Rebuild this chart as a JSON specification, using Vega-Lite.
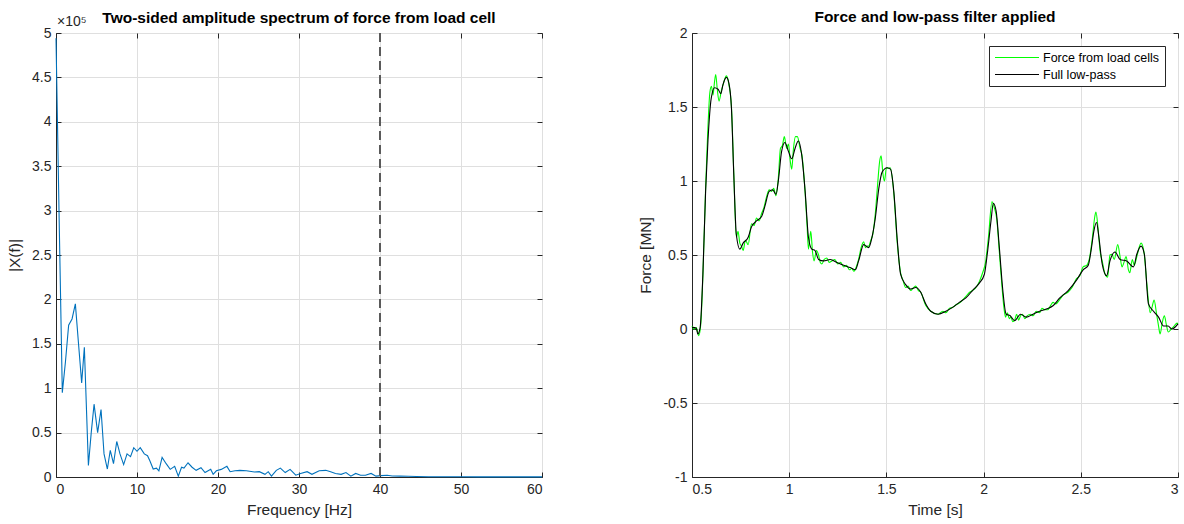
{
  "$schema": "https://vega.github.io/schema/vega-lite/v6.json",
  "background": "white",
  "padding": {"left": 7, "top": 9, "right": 1, "bottom": 5},
  "spacing": 92,
  "resolve": {"scale": {"color": "independent"}, "legend": {"color": "independent"}},
  "config": {
    "font": "Liberation Sans",
    "view": {"stroke": "#262626", "strokeWidth": 1},
    "axis": {
      "labelFont": "Liberation Sans", "labelFontSize": 14, "labelColor": "#262626",
      "titleFont": "Liberation Sans", "titleFontSize": 15.5, "titleFontWeight": "normal", "titleColor": "#262626",
      "domainColor": "#262626", "tickColor": "#262626", "gridColor": "#dfdfdf", "grid": true,
      "tickSize": -5, "labelPadding": 10, "titlePadding": 6
    },
    "axisY": {"titlePadding": 9},
    "title": {"font": "Liberation Sans", "fontSize": 15.5, "fontWeight": "bold", "color": "#000000", "frame": "group"},
    "legend": {
      "orient": "top-right", "offset": 13, "fillColor": "white", "strokeColor": "#262626",
      "padding": 5, "symbolType": "M-4,0H4", "symbolSize": 121, "symbolStrokeWidth": 1.2, "symbolOffset": 16.5,
      "labelFont": "Liberation Sans", "labelFontSize": 12.5, "labelColor": "#000000", "rowPadding": 4, "labelOffset": 19.5, "cornerRadius": 0
    }
  },
  "hconcat": [
    {
      "width": 486, "height": 444,
      "title": {"text": "Two-sided amplitude spectrum of force from load cell", "offset": -11},
      "resolve": {"axis": {"x": "independent", "y": "independent"}},
      "layer": [
        {
          "data": {"values": [
            {"f": 0, "amp": 494000}, {"f": 0.39, "amp": 290000}, {"f": 0.78, "amp": 95000}, {"f": 1.17, "amp": 130000},
            {"f": 1.56, "amp": 171000}, {"f": 1.98, "amp": 178000}, {"f": 2.39, "amp": 195000}, {"f": 2.78, "amp": 150000},
            {"f": 3.17, "amp": 106000}, {"f": 3.5, "amp": 146000}, {"f": 4.0, "amp": 13000}, {"f": 4.35, "amp": 50000},
            {"f": 4.7, "amp": 82000}, {"f": 5.14, "amp": 50000}, {"f": 5.56, "amp": 76000}, {"f": 5.93, "amp": 26000},
            {"f": 6.34, "amp": 9000}, {"f": 6.7, "amp": 30000}, {"f": 7.1, "amp": 15000}, {"f": 7.5, "amp": 40000},
            {"f": 7.9, "amp": 26000}, {"f": 8.35, "amp": 14000}, {"f": 8.77, "amp": 26000}, {"f": 9.2, "amp": 23000},
            {"f": 9.6, "amp": 33000}, {"f": 10.0, "amp": 29000}, {"f": 10.4, "amp": 33000}, {"f": 10.9, "amp": 26000},
            {"f": 11.3, "amp": 24000}, {"f": 11.6, "amp": 18000}, {"f": 12.0, "amp": 9000}, {"f": 12.4, "amp": 10000},
            {"f": 12.7, "amp": 7000}, {"f": 13.1, "amp": 22000}, {"f": 13.6, "amp": 15000}, {"f": 14.1, "amp": 8600},
            {"f": 14.65, "amp": 12000}, {"f": 15.1, "amp": 1000}, {"f": 15.5, "amp": 11000}, {"f": 15.8, "amp": 10000},
            {"f": 16.3, "amp": 16000}, {"f": 16.8, "amp": 11000}, {"f": 17.3, "amp": 7500}, {"f": 17.9, "amp": 10500},
            {"f": 18.4, "amp": 5000}, {"f": 19.1, "amp": 8600}, {"f": 19.4, "amp": 3000}, {"f": 19.8, "amp": 7000},
            {"f": 20.4, "amp": 8600}, {"f": 21.1, "amp": 12000}, {"f": 21.5, "amp": 6000}, {"f": 22.1, "amp": 7000},
            {"f": 22.7, "amp": 7500}, {"f": 23.5, "amp": 7000}, {"f": 24.5, "amp": 5600}, {"f": 25.1, "amp": 6000},
            {"f": 25.8, "amp": 3000}, {"f": 26.2, "amp": 6000}, {"f": 26.6, "amp": 1000}, {"f": 27.2, "amp": 7500},
            {"f": 27.7, "amp": 10000}, {"f": 28.3, "amp": 5000}, {"f": 28.9, "amp": 8600}, {"f": 29.6, "amp": 2000},
            {"f": 30.2, "amp": 4000}, {"f": 31.0, "amp": 6000}, {"f": 31.6, "amp": 3000}, {"f": 32.5, "amp": 7000},
            {"f": 33.3, "amp": 7500}, {"f": 33.9, "amp": 6000}, {"f": 34.5, "amp": 4000}, {"f": 35.2, "amp": 3000},
            {"f": 35.8, "amp": 5000}, {"f": 36.4, "amp": 1000}, {"f": 37.0, "amp": 4000}, {"f": 37.6, "amp": 2000},
            {"f": 38.2, "amp": 2000}, {"f": 38.9, "amp": 4000}, {"f": 39.5, "amp": 1000}, {"f": 40.1, "amp": 1500},
            {"f": 40.9, "amp": 2000}, {"f": 41.5, "amp": 1200}, {"f": 42.5, "amp": 1000}, {"f": 43.5, "amp": 800},
            {"f": 44.5, "amp": 500}, {"f": 46, "amp": 300}, {"f": 48, "amp": 200}, {"f": 50, "amp": 200},
            {"f": 52, "amp": 100}, {"f": 55, "amp": 100}, {"f": 58, "amp": 100}, {"f": 60, "amp": 100}
          ]},
          "mark": {"type": "line", "color": "#0072bd", "strokeWidth": 1.1},
          "encoding": {
            "x": {"field": "f", "type": "quantitative", "scale": {"domain": [0, 60], "nice": false},
                  "axis": {"title": "Frequency [Hz]", "values": [0, 10, 20, 30, 40, 50, 60]}},
            "y": {"field": "amp", "type": "quantitative", "scale": {"domain": [0, 500000], "nice": false},
                  "axis": {"title": "|X(f)|", "values": [0, 50000, 100000, 150000, 200000, 250000, 300000, 350000, 400000, 450000, 500000],
                           "labelExpr": "format(datum.value/100000, '')"}}
          }
        },
        {
          "data": {"values": [{"f": 40}]},
          "mark": {"type": "rule", "color": "#5a5a5a", "strokeWidth": 2, "strokeDash": [9, 5]},
          "encoding": {"x": {"field": "f", "type": "quantitative", "axis": null}}
        },
        {
          "data": {"values": [{"f": 0, "amp": 500000, "label": "×10⁵"}]},
          "mark": {"type": "text", "align": "left", "baseline": "alphabetic", "dx": 1, "dy": -7, "fontSize": 14, "color": "#262626", "font": "Liberation Sans"},
          "encoding": {
            "x": {"field": "f", "type": "quantitative", "axis": null},
            "y": {"field": "amp", "type": "quantitative", "axis": null},
            "text": {"field": "label"}
          }
        },
        {
          "data": {"values": [{"f": 60, "amp": 0}]},
          "mark": {"type": "point", "opacity": 0},
          "encoding": {
            "x": {"field": "f", "type": "quantitative", "axis": {"orient": "top", "labels": false, "title": null, "grid": false, "domain": false, "values": [0, 10, 20, 30, 40, 50, 60]}},
            "y": {"field": "amp", "type": "quantitative", "axis": {"orient": "right", "labels": false, "title": null, "grid": false, "domain": false, "values": [0, 50000, 100000, 150000, 200000, 250000, 300000, 350000, 400000, 450000, 500000]}}
          }
        }
      ]
    },
    {
      "width": 486, "height": 444,
      "title": {"text": "Force and low-pass filter applied", "offset": 1},
      "resolve": {"axis": {"x": "independent", "y": "independent"}},
      "layer": [
        {
          "data": {"values": [
            {"t":0.5,"F":0.02},{"t":0.51,"F":0.0},{"t":0.522,"F":0.01},{"t":0.535,"F":-0.045},{"t":0.545,"F":0.03},
            {"t":0.556,"F":0.36},{"t":0.57,"F":0.95},{"t":0.58,"F":1.3},{"t":0.592,"F":1.6},{"t":0.6,"F":1.64},
            {"t":0.608,"F":1.58},{"t":0.615,"F":1.66},{"t":0.622,"F":1.72},{"t":0.63,"F":1.62},{"t":0.639,"F":1.54},
            {"t":0.651,"F":1.61},{"t":0.662,"F":1.66},{"t":0.677,"F":1.71},{"t":0.69,"F":1.65},{"t":0.703,"F":1.5},
            {"t":0.715,"F":1.05},{"t":0.728,"F":0.62},{"t":0.737,"F":0.66},{"t":0.746,"F":0.58},{"t":0.755,"F":0.56},
            {"t":0.763,"F":0.53},{"t":0.775,"F":0.6},{"t":0.789,"F":0.57},{"t":0.806,"F":0.71},{"t":0.82,"F":0.7},
            {"t":0.832,"F":0.75},{"t":0.845,"F":0.73},{"t":0.858,"F":0.78},{"t":0.87,"F":0.82},{"t":0.885,"F":0.9},
            {"t":0.897,"F":0.94},{"t":0.91,"F":0.93},{"t":0.92,"F":0.95},{"t":0.932,"F":0.9},{"t":0.944,"F":1.02},
            {"t":0.955,"F":1.22},{"t":0.965,"F":1.24},{"t":0.975,"F":1.3},{"t":0.987,"F":1.22},{"t":0.996,"F":1.25},
            {"t":1.005,"F":1.14},{"t":1.013,"F":1.08},{"t":1.022,"F":1.22},{"t":1.032,"F":1.3},{"t":1.042,"F":1.3},
            {"t":1.056,"F":1.22},{"t":1.066,"F":1.17},{"t":1.082,"F":0.92},{"t":1.092,"F":0.7},{"t":1.099,"F":0.54},
            {"t":1.111,"F":0.66},{"t":1.12,"F":0.52},{"t":1.128,"F":0.46},{"t":1.14,"F":0.53},{"t":1.151,"F":0.5},
            {"t":1.16,"F":0.45},{"t":1.168,"F":0.44},{"t":1.18,"F":0.47},{"t":1.194,"F":0.48},{"t":1.205,"F":0.45},
            {"t":1.22,"F":0.46},{"t":1.235,"F":0.47},{"t":1.25,"F":0.44},{"t":1.265,"F":0.45},{"t":1.28,"F":0.42},
            {"t":1.295,"F":0.43},{"t":1.31,"F":0.4},{"t":1.322,"F":0.41},{"t":1.332,"F":0.39},{"t":1.345,"F":0.42},
            {"t":1.357,"F":0.47},{"t":1.37,"F":0.55},{"t":1.383,"F":0.59},{"t":1.392,"F":0.55},{"t":1.4,"F":0.56},
            {"t":1.409,"F":0.56},{"t":1.42,"F":0.6},{"t":1.43,"F":0.64},{"t":1.443,"F":0.78},{"t":1.455,"F":0.98},
            {"t":1.465,"F":1.13},{"t":1.473,"F":1.17},{"t":1.482,"F":1.05},{"t":1.49,"F":1.0},{"t":1.5,"F":1.09},
            {"t":1.51,"F":1.085},{"t":1.52,"F":1.09},{"t":1.538,"F":0.92},{"t":1.556,"F":0.58},{"t":1.573,"F":0.38},
            {"t":1.585,"F":0.33},{"t":1.599,"F":0.28},{"t":1.612,"F":0.29},{"t":1.625,"F":0.26},{"t":1.64,"F":0.28},
            {"t":1.651,"F":0.29},{"t":1.665,"F":0.26},{"t":1.676,"F":0.25},{"t":1.702,"F":0.16},{"t":1.728,"F":0.12},
            {"t":1.766,"F":0.1},{"t":1.79,"F":0.12},{"t":1.806,"F":0.11},{"t":1.825,"F":0.14},{"t":1.84,"F":0.145},
            {"t":1.86,"F":0.165},{"t":1.875,"F":0.175},{"t":1.895,"F":0.2},{"t":1.909,"F":0.22},{"t":1.93,"F":0.25},
            {"t":1.943,"F":0.26},{"t":1.96,"F":0.28},{"t":1.978,"F":0.32},{"t":1.995,"F":0.38},{"t":2.01,"F":0.45},
            {"t":2.025,"F":0.62},{"t":2.043,"F":0.86},{"t":2.055,"F":0.82},{"t":2.068,"F":0.74},{"t":2.081,"F":0.52},
            {"t":2.095,"F":0.28},{"t":2.105,"F":0.14},{"t":2.113,"F":0.08},{"t":2.122,"F":0.11},{"t":2.132,"F":0.07},
            {"t":2.14,"F":0.08},{"t":2.15,"F":0.05},{"t":2.16,"F":0.06},{"t":2.17,"F":0.1},{"t":2.18,"F":0.06},
            {"t":2.19,"F":0.09},{"t":2.2,"F":0.1},{"t":2.212,"F":0.07},{"t":2.225,"F":0.09},{"t":2.24,"F":0.1},
            {"t":2.255,"F":0.09},{"t":2.27,"F":0.12},{"t":2.288,"F":0.11},{"t":2.3,"F":0.14},{"t":2.315,"F":0.13},
            {"t":2.33,"F":0.13},{"t":2.345,"F":0.16},{"t":2.357,"F":0.18},{"t":2.372,"F":0.17},{"t":2.392,"F":0.2},
            {"t":2.41,"F":0.23},{"t":2.435,"F":0.25},{"t":2.455,"F":0.28},{"t":2.478,"F":0.34},{"t":2.495,"F":0.36},
            {"t":2.512,"F":0.42},{"t":2.53,"F":0.43},{"t":2.545,"F":0.48},{"t":2.56,"F":0.62},{"t":2.572,"F":0.76},
            {"t":2.578,"F":0.79},{"t":2.59,"F":0.66},{"t":2.6,"F":0.52},{"t":2.61,"F":0.46},{"t":2.625,"F":0.37},
            {"t":2.638,"F":0.35},{"t":2.65,"F":0.5},{"t":2.66,"F":0.505},{"t":2.672,"F":0.47},{"t":2.69,"F":0.57},
            {"t":2.702,"F":0.49},{"t":2.712,"F":0.42},{"t":2.722,"F":0.45},{"t":2.733,"F":0.49},{"t":2.745,"F":0.4},
            {"t":2.752,"F":0.38},{"t":2.765,"F":0.47},{"t":2.775,"F":0.43},{"t":2.79,"F":0.5},{"t":2.81,"F":0.58},
            {"t":2.825,"F":0.52},{"t":2.84,"F":0.3},{"t":2.857,"F":0.11},{"t":2.867,"F":0.15},{"t":2.877,"F":0.195},
            {"t":2.89,"F":0.1},{"t":2.9,"F":0.02},{"t":2.908,"F":-0.034},{"t":2.92,"F":0.05},{"t":2.93,"F":0.09},
            {"t":2.94,"F":0.03},{"t":2.95,"F":-0.02},{"t":2.965,"F":0.0},{"t":2.98,"F":0.02},{"t":2.995,"F":0.04},
            {"t":3.0,"F":0.035}
          ]},
          "transform": [{"calculate": "'Force from load cells'", "as": "s"}],
          "mark": {"type": "line", "strokeWidth": 1.1, "interpolate": "monotone"},
          "encoding": {
            "x": {"field": "t", "type": "quantitative", "scale": {"domain": [0.5, 3], "nice": false},
                  "axis": {"title": "Time [s]", "values": [0.5, 1, 1.5, 2, 2.5, 3], "labelExpr": "replace(format(datum.value, ''), '\u2212', '-')"}},
            "y": {"field": "F", "type": "quantitative", "scale": {"domain": [-1, 2], "nice": false},
                  "axis": {"title": "Force [MN]", "values": [-1, -0.5, 0, 0.5, 1, 1.5, 2], "labelExpr": "replace(format(datum.value, ''), '\u2212', '-')"}},
            "color": {"field": "s", "type": "nominal",
                      "scale": {"domain": ["Force from load cells", "Full low-pass"], "range": ["#00ff00", "#000000"]},
                      "legend": {"title": null}}
          }
        },
        {
          "data": {"values": [
            {"t":0.5,"F":0.01},{"t":0.504,"F":0.011},{"t":0.522,"F":0.005},{"t":0.53,"F":-0.034},{"t":0.542,"F":0.011},
            {"t":0.556,"F":0.37},{"t":0.57,"F":0.93},{"t":0.582,"F":1.27},{"t":0.599,"F":1.56},{"t":0.616,"F":1.63},
            {"t":0.634,"F":1.62},{"t":0.648,"F":1.59},{"t":0.659,"F":1.65},{"t":0.677,"F":1.7},{"t":0.69,"F":1.66},
            {"t":0.703,"F":1.49},{"t":0.715,"F":1.04},{"t":0.728,"F":0.64},{"t":0.746,"F":0.54},{"t":0.763,"F":0.58},
            {"t":0.789,"F":0.62},{"t":0.806,"F":0.69},{"t":0.832,"F":0.73},{"t":0.858,"F":0.76},{"t":0.875,"F":0.83},
            {"t":0.897,"F":0.93},{"t":0.915,"F":0.94},{"t":0.932,"F":0.91},{"t":0.944,"F":1.0},{"t":0.961,"F":1.2},
            {"t":0.978,"F":1.26},{"t":0.996,"F":1.2},{"t":1.013,"F":1.15},{"t":1.03,"F":1.22},{"t":1.047,"F":1.27},
            {"t":1.064,"F":1.18},{"t":1.082,"F":0.93},{"t":1.099,"F":0.62},{"t":1.116,"F":0.54},{"t":1.133,"F":0.53},
            {"t":1.151,"F":0.47},{"t":1.177,"F":0.46},{"t":1.211,"F":0.47},{"t":1.245,"F":0.45},{"t":1.28,"F":0.43},
            {"t":1.314,"F":0.415},{"t":1.34,"F":0.4},{"t":1.357,"F":0.46},{"t":1.383,"F":0.57},{"t":1.409,"F":0.55},
            {"t":1.426,"F":0.62},{"t":1.443,"F":0.75},{"t":1.461,"F":0.95},{"t":1.478,"F":1.06},{"t":1.504,"F":1.09},
            {"t":1.521,"F":1.08},{"t":1.538,"F":0.93},{"t":1.556,"F":0.6},{"t":1.573,"F":0.37},{"t":1.599,"F":0.3},
            {"t":1.625,"F":0.27},{"t":1.651,"F":0.28},{"t":1.676,"F":0.25},{"t":1.702,"F":0.17},{"t":1.728,"F":0.12},
            {"t":1.766,"F":0.1},{"t":1.806,"F":0.12},{"t":1.84,"F":0.146},{"t":1.875,"F":0.18},{"t":1.909,"F":0.21},
            {"t":1.943,"F":0.26},{"t":1.978,"F":0.31},{"t":2.004,"F":0.37},{"t":2.021,"F":0.53},{"t":2.038,"F":0.73},
            {"t":2.05,"F":0.85},{"t":2.064,"F":0.8},{"t":2.081,"F":0.55},{"t":2.099,"F":0.26},{"t":2.116,"F":0.1},
            {"t":2.137,"F":0.09},{"t":2.159,"F":0.056},{"t":2.19,"F":0.1},{"t":2.219,"F":0.08},{"t":2.254,"F":0.1},
            {"t":2.288,"F":0.12},{"t":2.323,"F":0.135},{"t":2.357,"F":0.157},{"t":2.392,"F":0.21},{"t":2.435,"F":0.26},
            {"t":2.478,"F":0.33},{"t":2.512,"F":0.4},{"t":2.538,"F":0.43},{"t":2.555,"F":0.55},{"t":2.567,"F":0.66},
            {"t":2.581,"F":0.72},{"t":2.593,"F":0.62},{"t":2.61,"F":0.44},{"t":2.633,"F":0.36},{"t":2.65,"F":0.46},
            {"t":2.676,"F":0.52},{"t":2.702,"F":0.47},{"t":2.736,"F":0.46},{"t":2.771,"F":0.42},{"t":2.788,"F":0.505},
            {"t":2.81,"F":0.56},{"t":2.827,"F":0.505},{"t":2.848,"F":0.17},{"t":2.874,"F":0.12},{"t":2.9,"F":0.08},
            {"t":2.926,"F":0.02},{"t":2.949,"F":0.02},{"t":2.969,"F":0.0},{"t":3.0,"F":0.034}
          ]},
          "transform": [{"calculate": "'Full low-pass'", "as": "s"}],
          "mark": {"type": "line", "strokeWidth": 1.1, "interpolate": "monotone"},
          "encoding": {
            "x": {"field": "t", "type": "quantitative", "axis": null},
            "y": {"field": "F", "type": "quantitative", "axis": null},
            "color": {"field": "s", "type": "nominal", "legend": {"title": null}}
          }
        },
        {
          "data": {"values": [{"t": 3, "F": -1}]},
          "mark": {"type": "point", "opacity": 0},
          "encoding": {
            "x": {"field": "t", "type": "quantitative", "axis": {"orient": "top", "labels": false, "title": null, "grid": false, "domain": false, "values": [0.5, 1, 1.5, 2, 2.5, 3]}},
            "y": {"field": "F", "type": "quantitative", "axis": {"orient": "right", "labels": false, "title": null, "grid": false, "domain": false, "values": [-1, -0.5, 0, 0.5, 1, 1.5, 2]}}
          }
        }
      ]
    }
  ]
}
